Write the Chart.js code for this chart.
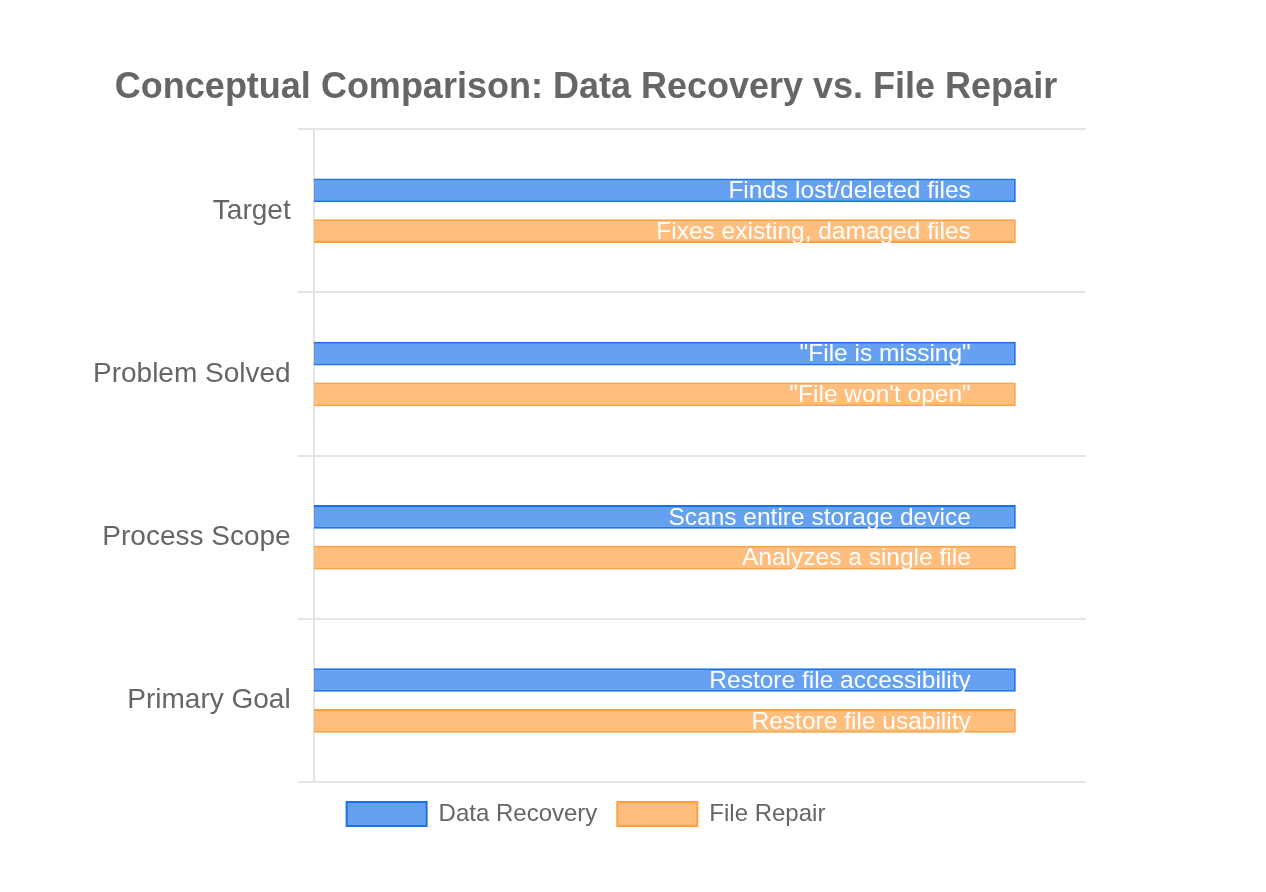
<!DOCTYPE html>
<html>
<head>
<meta charset="utf-8">
<script src="https://cdn.jsdelivr.net/npm/chart.js@4"></script>
<style>
  html, body { margin: 0; padding: 0; background: #fff; }
  #wrap { position: absolute; left: 0; top: 0; width: 1174px; height: 892px; }
</style>
</head>
<body>
<div id="wrap"><canvas id="myChart"></canvas></div>
<script>
    const categories = ["Target", "Problem Solved", "Process Scope", "Primary Goal"];
    const recoveryValues = [1, 1, 1, 1];
    const repairValues = [1, 1, 1, 1];
    const recoveryNotes = [
        "Finds lost/deleted files",
        "\"File is missing\"",
        "Scans entire storage device",
        "Restore file accessibility",
    ];
    const repairNotes = [
        "Fixes existing, damaged files",
        "\"File won't open\"",
        "Analyzes a single file",
        "Restore file usability",
    ];

    const fontFamily = "'Liberation Sans', Arial, Helvetica, sans-serif";

    // writes the note text inside each bar, near its right end
    const barNotes = {
        id: "barNotes",
        afterDatasetsDraw(chart) {
            const { ctx } = chart;
            ctx.save();
            ctx.font = "24.5px " + fontFamily;
            ctx.fillStyle = "#ffffff";
            ctx.textAlign = "right";
            ctx.textBaseline = "middle";
            chart.data.datasets.forEach((ds, i) => {
                const meta = chart.getDatasetMeta(i);
                meta.data.forEach((bar, j) => {
                    ctx.fillText(ds.notes[j], bar.x - 45, bar.y + 1);
                });
            });
            ctx.restore();
        },
    };

    const ctx = document.getElementById("myChart").getContext("2d");

    new Chart(ctx, {
        type: "bar",
        data: {
            labels: categories,
            datasets: [
                {
                    label: "Data Recovery",
                    data: recoveryValues,
                    notes: recoveryNotes,
                    backgroundColor: "rgba(26, 115, 232, 0.67)",
                    borderColor: "#1a73e8",
                    borderWidth: 2,
                    categoryPercentage: 0.5,
                    barPercentage: 0.58,
                },
                {
                    label: "File Repair",
                    data: repairValues,
                    notes: repairNotes,
                    backgroundColor: "rgba(255, 159, 64, 0.68)",
                    borderColor: "#ff9f40",
                    borderWidth: 2,
                    categoryPercentage: 0.5,
                    barPercentage: 0.58,
                },
            ],
        },
        options: {
            indexAxis: "y",
            responsive: true,
            maintainAspectRatio: false,
            animation: false,
            layout: { padding: { top: 46, bottom: 56, left: 86, right: 88 } },
            plugins: {
                title: {
                    display: true,
                    text: "Conceptual Comparison: Data Recovery vs. File Repair",
                    color: "#666666",
                    font: { family: fontFamily, size: 36, weight: "bold" },
                    padding: 20,
                },
                legend: {
                    position: "bottom",
                    labels: {
                        color: "#666666",
                        font: { family: fontFamily, size: 24 },
                        boxWidth: 80,
                        boxHeight: 24,
                        padding: 20,
                    },
                },
                tooltip: { enabled: false },
            },
            scales: {
                x: {
                    display: false,
                    min: 0,
                    max: 1.1,
                },
                y: {
                    ticks: {
                        color: "#666666",
                        font: { family: fontFamily, size: 28 },
                        padding: 7,
                    },
                    grid: {
                        color: "rgba(0,0,0,0.1)",
                        lineWidth: 2,
                        tickLength: 16,
                    },
                    border: { color: "rgba(0,0,0,0.1)", width: 2 },
                },
            },
        },
        plugins: [barNotes],
    });
</script>
</body>
</html>
